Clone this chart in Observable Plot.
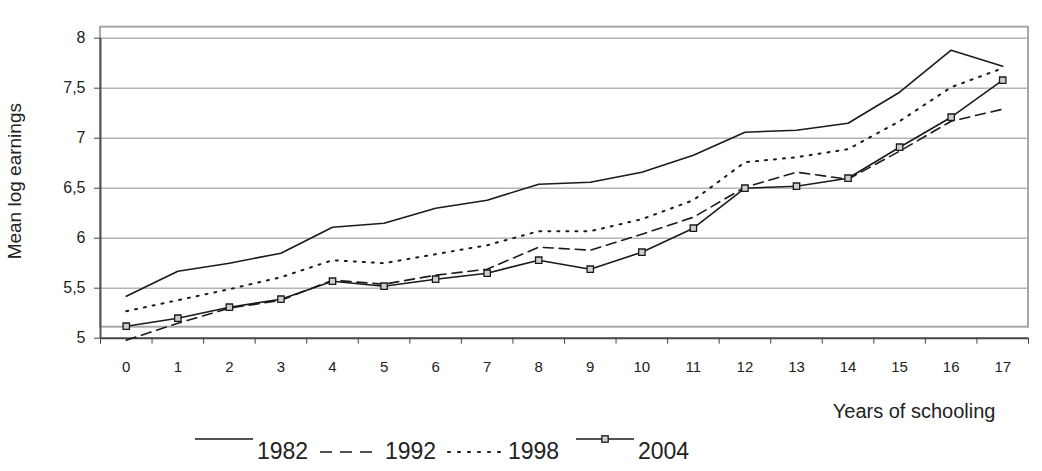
<!DOCTYPE html>
<html>
<head>
<meta charset="utf-8">
<script src="https://cdn.jsdelivr.net/npm/d3@7"></script>
<script src="https://cdn.jsdelivr.net/npm/@observablehq/plot@0.6"></script>
<style>
  html, body { margin: 0; padding: 0; background: #fff; }
  body { width: 1042px; height: 471px; position: relative; overflow: hidden; font-family: "Liberation Sans", Arial, sans-serif; }
  #legend { position: absolute; left: 0; top: 428px; width: 1042px; height: 43px; }
  #legend .sw { position: absolute; top: 0; }
  #legend .lb { position: absolute; top: 10px; font-size: 23px; line-height: 26px; color: #222; }
</style>
</head>
<body>
<div id="chart"></div>
<div id="legend"></div>
<script>
const years = [0, 1, 2, 3, 4, 5, 6, 7, 8, 9, 10, 11, 12, 13, 14, 15, 16, 17];
const v1982 = [5.42, 5.67, 5.75, 5.85, 6.11, 6.15, 6.30, 6.38, 6.54, 6.56, 6.66, 6.83, 7.06, 7.08, 7.15, 7.46, 7.88, 7.72];
const v1992 = [4.98, 5.15, 5.30, 5.38, 5.58, 5.54, 5.63, 5.69, 5.91, 5.88, 6.04, 6.21, 6.51, 6.66, 6.59, 6.87, 7.17, 7.29];
const v1998 = [5.27, 5.38, 5.49, 5.61, 5.78, 5.75, 5.84, 5.93, 6.07, 6.07, 6.19, 6.38, 6.76, 6.81, 6.89, 7.17, 7.51, 7.70];
const v2004 = [5.12, 5.20, 5.31, 5.39, 5.57, 5.52, 5.59, 5.65, 5.78, 5.69, 5.86, 6.10, 6.50, 6.52, 6.60, 6.91, 7.21, 7.58];
const seriesNames = ["1982", "1992", "1998", "2004"];
const yTicks = [5, 5.5, 6, 6.5, 7, 7.5, 8];
const xLabel = "Years of schooling";
const yLabel = "Mean log earnings";

const rows = (vals) => years.map((x, i) => ({x, y: vals[i]}));
const d1982 = rows(v1982), d1992 = rows(v1992), d1998 = rows(v1998), d2004 = rows(v2004);
const boundaries = years.map(x => x - 0.5).concat([years[years.length - 1] + 0.5]);
const fmt = d => String(d).replace(".", ",");

const chart = Plot.plot({
  width: 1042,
  height: 428,
  marginLeft: 100,
  marginRight: 14,
  marginTop: 37.7,
  marginBottom: 90.3,
  style: {fontFamily: "'Liberation Sans', Arial, sans-serif", color: "#222", background: "#fff"},
  x: {type: "linear", domain: [-0.5, 17.5]},
  y: {type: "linear", domain: [5, 8]},
  marks: [
    Plot.ruleY(yTicks.slice(1), {stroke: "#b4b4b4", strokeWidth: 1.6}),
    Plot.rect([{}], {x1: -0.5, x2: 17.5, y1: 5.11, y2: 8.11, fill: "none", stroke: "#a8a8a8", strokeWidth: 2}),
    Plot.ruleX([-0.5], {y1: 5, y2: 8, stroke: "#555", strokeWidth: 2}),
    Plot.ruleY([5], {stroke: "#444", strokeWidth: 2}),
    Plot.axisY({ticks: yTicks, tickFormat: fmt, tickSize: 6, tickPadding: 9, fontSize: 16, label: null, stroke: "#444"}),
    Plot.axisX({ticks: boundaries, tickFormat: () => "", tickSize: 6, label: null, stroke: "#444"}),
    Plot.axisX({ticks: years, tickFormat: d => String(d), tickSize: 0, tickPadding: 23, fontSize: 15, label: null}),
    Plot.line(d1982, {x: "x", y: "y", stroke: "#1a1a1a", strokeWidth: 1.6}),
    Plot.line(d1992, {x: "x", y: "y", stroke: "#1a1a1a", strokeWidth: 1.6, strokeDasharray: "10,6"}),
    Plot.line(d1998, {x: "x", y: "y", stroke: "#1a1a1a", strokeWidth: 2, strokeDasharray: "2,7", strokeLinecap: "round"}),
    Plot.line(d2004, {x: "x", y: "y", stroke: "#1a1a1a", strokeWidth: 1.6}),
    Plot.dot(d2004, {x: "x", y: "y", symbol: "square", r: 3.6, fill: "#cfcfcf", stroke: "#1a1a1a", strokeWidth: 1.3}),
    Plot.text([xLabel], {text: d => d, frameAnchor: "bottom-right", textAnchor: "end", dx: -33, dy: 80, fontSize: 20, fill: "#222"}),
    Plot.text([yLabel], {text: d => d, frameAnchor: "left", textAnchor: "middle", rotate: -90, dx: -86, dy: -7, fontSize: 19, fill: "#222"})
  ]
});
document.getElementById("chart").appendChild(chart);

// Legend below the chart
const legend = document.getElementById("legend");
const items = [
  {name: seriesNames[0], x0: 195, w: 58, ly: 11, dash: null, marker: false, tx: 257},
  {name: seriesNames[1], x0: 320, w: 53, ly: 24, dash: "12,8", marker: false, tx: 385},
  {name: seriesNames[2], x0: 448, w: 57, ly: 24, dash: "2,8", marker: false, tx: 508},
  {name: seriesNames[3], x0: 576, w: 58, ly: 11, dash: null, marker: true, tx: 638}
];
for (const it of items) {
  const ns = "http://www.w3.org/2000/svg";
  const svg = document.createElementNS(ns, "svg");
  svg.setAttribute("width", it.w + 4);
  svg.setAttribute("height", 34);
  svg.setAttribute("class", "sw");
  svg.style.left = (it.x0 - 2) + "px";
  const ln = document.createElementNS(ns, "line");
  ln.setAttribute("x1", 2); ln.setAttribute("x2", it.w + 2);
  ln.setAttribute("y1", it.ly); ln.setAttribute("y2", it.ly);
  ln.setAttribute("stroke", "#1a1a1a");
  ln.setAttribute("stroke-width", it.dash === "2,8" ? 2 : 1.6);
  if (it.dash) ln.setAttribute("stroke-dasharray", it.dash);
  if (it.dash === "2,8") ln.setAttribute("stroke-linecap", "round");
  svg.appendChild(ln);
  if (it.marker) {
    const sq = document.createElementNS(ns, "rect");
    sq.setAttribute("x", 2 + it.w / 2 - 3.2); sq.setAttribute("y", it.ly - 3.2);
    sq.setAttribute("width", 6.4); sq.setAttribute("height", 6.4);
    sq.setAttribute("fill", "#cfcfcf"); sq.setAttribute("stroke", "#1a1a1a"); sq.setAttribute("stroke-width", 1.3);
    svg.appendChild(sq);
  }
  legend.appendChild(svg);
  const lb = document.createElement("div");
  lb.className = "lb";
  lb.style.left = it.tx + "px";
  lb.textContent = it.name;
  legend.appendChild(lb);
}
</script>
</body>
</html>
